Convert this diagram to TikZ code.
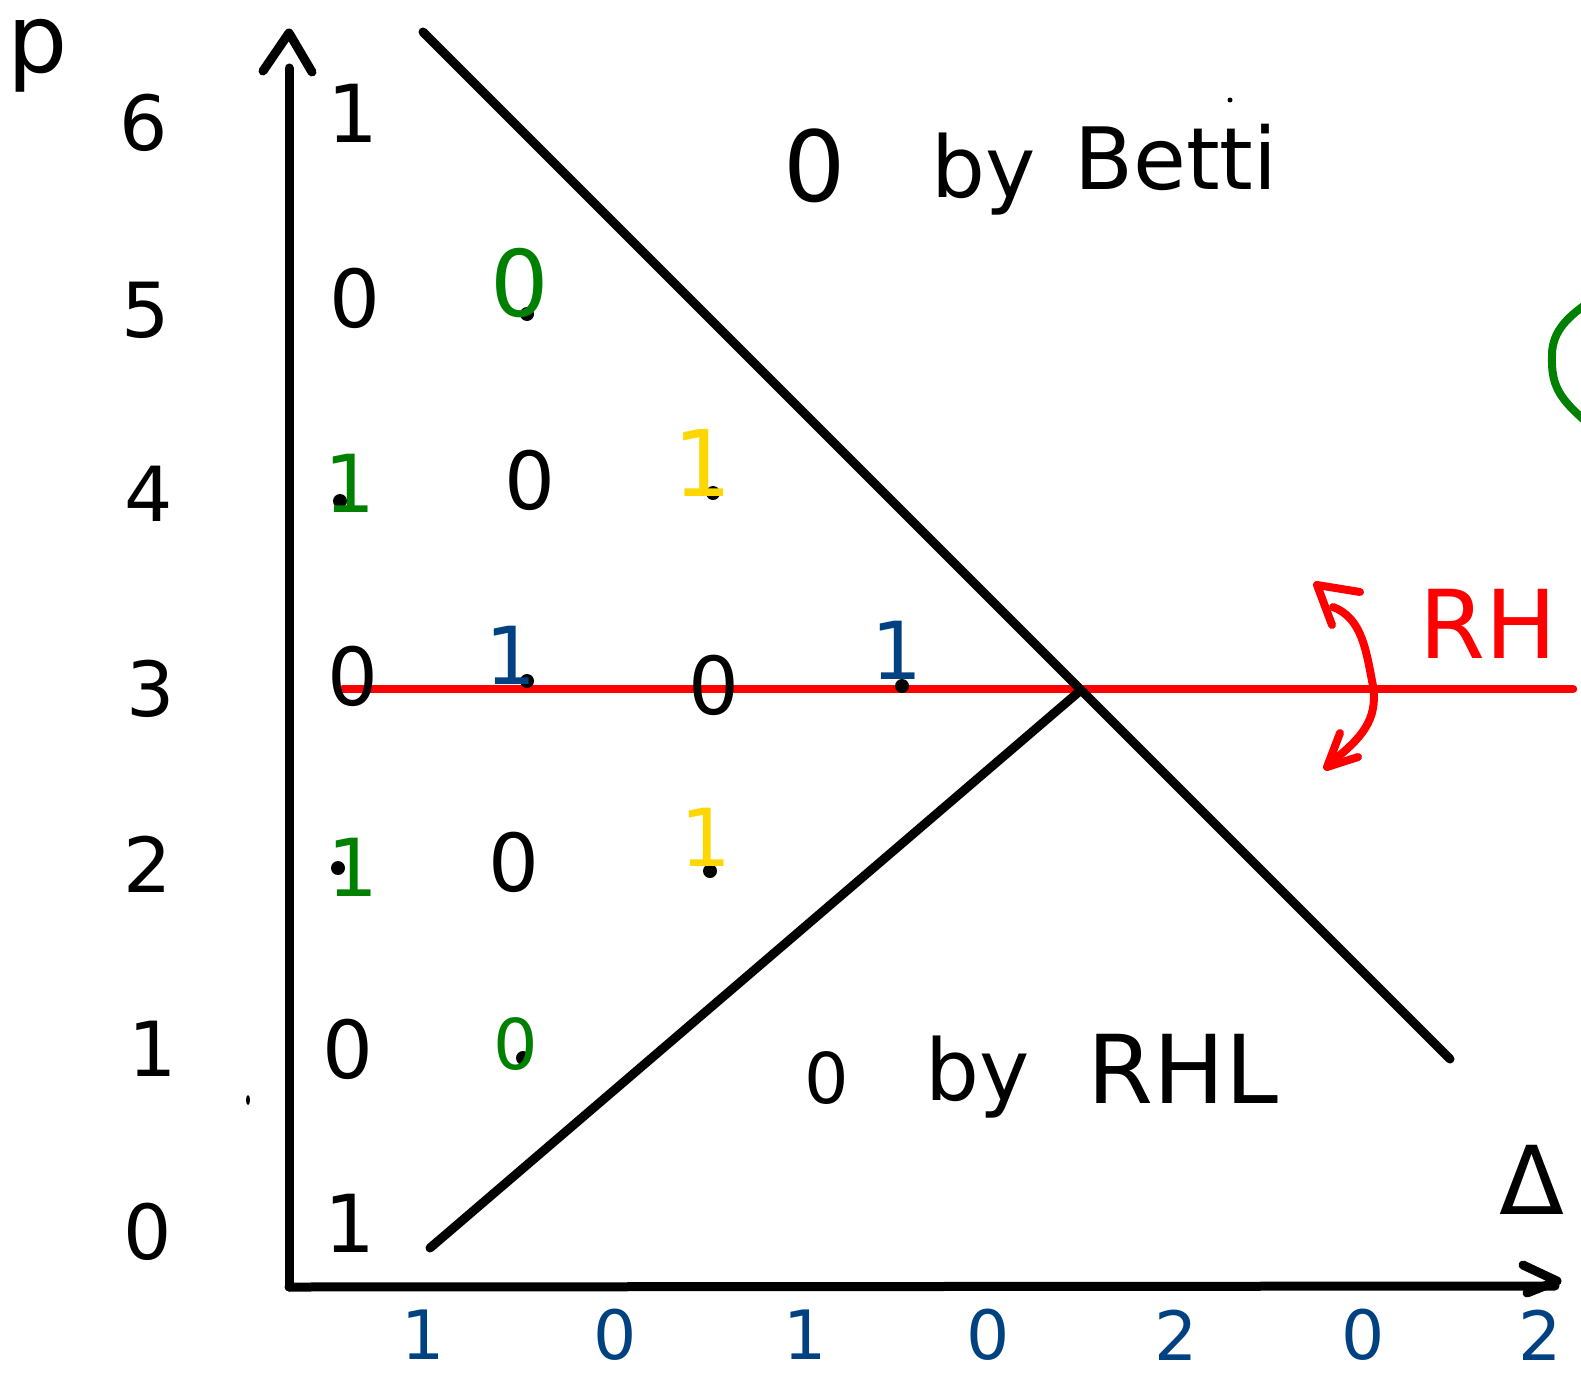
\documentclass[tikz,border=0pt]{standalone}
\usepackage{fontspec}
\setmainfont{DejaVu Sans}
\definecolor{hgreen}{RGB}{0,128,0}
\definecolor{hyellow}{RGB}{255,215,0}
\definecolor{hblue}{RGB}{0,65,130}
\definecolor{hred}{RGB}{255,0,0}
\newcommand{\myfs}[1]{\fontsize{#1}{#1}\selectfont}
\tikzset{
  axisline/.style={line width=9pt, black, line cap=round, line join=round},
  redline/.style={line width=8.5pt, hred, line cap=round, line join=round},
  redarrow/.style={line width=8pt, hred, line cap=round, line join=round},
  plbl/.style={inner sep=0pt, font=\myfs{76}},
  dlbl/.style={inner sep=0pt, font=\myfs{68}, text=hblue},
  gridnum/.style={inner sep=0pt, font=\myfs{80}},
  word/.style={inner sep=0pt, anchor=base},
  latdot/.style={circle, fill=black, inner sep=0pt, minimum size=14pt},
}
\begin{document}
\begin{tikzpicture}[x=1pt,y=-1pt]
\useasboundingbox (0,0) rectangle (1581,1378);
\fill[white] (0,0) rectangle (1581,1378);

% coordinates
\coordinate (O) at (289,1287);
\coordinate (ytop) at (289,68);
\coordinate (ytip) at (289,33);
\coordinate (yb1) at (263,71);
\coordinate (yb2) at (312,72);
\coordinate (xend) at (1555,1286);
\coordinate (xtip) at (1557,1281);
\coordinate (xb1) at (1523,1265);
\coordinate (xb2) at (1527,1293);
\coordinate (d1a) at (423,32);
\coordinate (d1b) at (1450,1059);
\coordinate (d2a) at (430,1248);
\coordinate (d2b) at (1081,690);
\coordinate (ra) at (343,689);
\coordinate (rb) at (1573,689);

% red line (under everything)
\draw[redline] (ra) -- (rb);

% axes
\draw[axisline] (O) -- (ytop);
\draw[axisline] (yb1) -- (ytip) -- (yb2);
\draw[axisline] (O) -- (xend);
\draw[axisline] (xb1) -- (xtip) -- (xb2);

% diagonals
\draw[axisline] (d1a) -- (d1b);
\draw[axisline] (d2a) -- (d2b);

% red curved double arrow
\coordinate (ca) at (1333,607);
\coordinate (cm) at (1373,686);
\coordinate (cb) at (1329,764);
\coordinate (ta) at (1317,585);
\coordinate (tb1) at (1360,592);
\coordinate (tb2) at (1332,625);
\coordinate (ba) at (1327,767);
\coordinate (bb1) at (1340,733);
\coordinate (bb2) at (1358,757);
\draw[redarrow] (ca) .. controls (1362,618) and (1366,650) .. (cm)
  .. controls (1378,720) and (1362,738) .. (cb);
\draw[redarrow] (tb1) -- (ta) -- (tb2);
\draw[redarrow] (bb1) -- (ba) -- (bb2);

% green partial curve at right edge
\draw[line width=8pt, hgreen, line cap=round, line join=round]
  (1592,300) .. controls (1570,315) and (1552,330) .. (1552,355)
  .. controls (1551,385) and (1558,398) .. (1590,425);

% lattice dots
\node[latdot] (k1) at (527,314) {};
\node[latdot] (k2) at (340,501) {};
\node[latdot] (k3) at (713,493) {};
\node[latdot] (k4) at (527,681) {};
\node[latdot] (k5) at (902,686) {};
\node[latdot] (k6) at (338,868) {};
\node[latdot] (k7) at (710,871) {};
\node[latdot] (k8) at (523,1058) {};
\fill (248,1100) ellipse (2pt and 5pt);
\fill (1230,100) circle (2.5pt);

% p label
\node[inner sep=0pt, font=\myfs{95}] (plabel) at (38,56) {p};

% left p values
\node[plbl] (p6) at (144,123) {6};
\node[plbl] (p5) at (146,310) {5};
\node[plbl] (p4) at (149,494) {4};
\node[plbl] (p3) at (151,689) {3};
\node[plbl] (p2) at (148,864) {2};
\node[plbl] (p1) at (153,1049) {1};
\node[plbl] (p0) at (148,1232) {0};

% bottom labels
\node[dlbl] (q1) at (423,1335) {1};
\node[dlbl] (q2) at (615,1335) {0};
\node[dlbl] (q3) at (805,1335) {1};
\node[dlbl] (q4) at (988,1335) {0};
\node[dlbl] (q5) at (1176,1335) {2};
\node[dlbl] (q6) at (1363,1335) {0};
\node[dlbl] (q7) at (1540,1335) {2};

% grid entries
\node[gridnum] (g61) at (353,113) {1};
\node[gridnum] (g50) at (355,298) {0};
\node[gridnum, text=hgreen, font=\myfs{92}] (g51) at (520,283) {0};
\node[gridnum, text=hgreen] (g40) at (350,483) {1};
\node[gridnum] (g41) at (530,480) {0};
\node[gridnum, text=hyellow, font=\myfs{92}] (g42) at (703,463) {1};
\node[gridnum] (g30) at (353,676) {0};
\node[gridnum, text=hblue] (g31) at (511,655) {1};
\node[gridnum] (g32) at (714,685) {0};
\node[gridnum, text=hblue] (g33) at (897,650) {1};
\node[gridnum, text=hgreen] (g20) at (353,867) {1};
\node[gridnum] (g21) at (514,862) {0};
\node[gridnum, text=hyellow] (g22) at (706,837) {1};
\node[gridnum] (g10) at (348,1049) {0};
\node[gridnum, text=hgreen, font=\myfs{70}] (g11) at (516,1044) {0};
\node[gridnum] (g00) at (350,1223) {1};

% words
\node[inner sep=0pt, font=\myfs{98}] (z1) at (815,166) {0};
\node[word, font=\myfs{85}] (by1) at (984,197) {by};
\node[word, font=\myfs{86}] (betti) at (1176,189) {Betti};
\node[inner sep=0pt, font=\myfs{70}] (z2) at (827,1078) {0};
\node[word, font=\myfs{85}] (by2) at (978,1100) {by};
\node[word, font=\myfs{95}] (rhl) at (1183,1103) {RHL};
\node[word, font=\myfs{95}, text=hred] (rh) at (1488,658) {RH};
\node[inner sep=0pt, font=\myfs{95}] (delta) at (1532,1180) {Δ};
\end{tikzpicture}
\end{document}
